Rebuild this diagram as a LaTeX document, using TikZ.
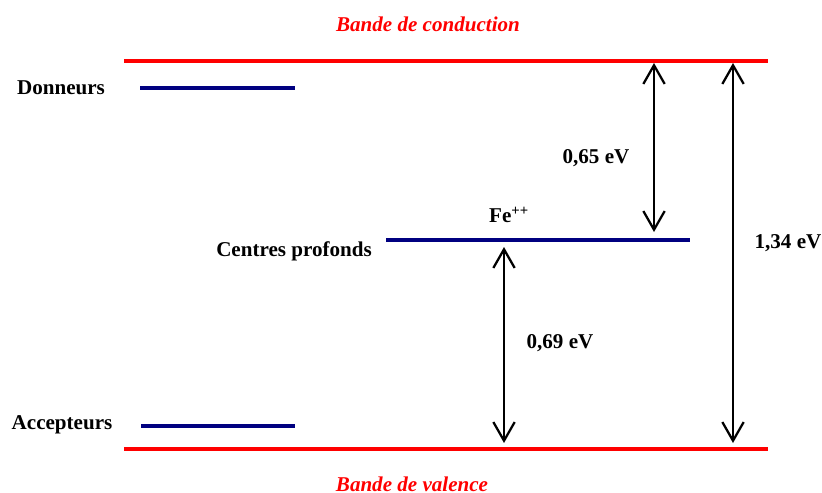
\documentclass[tikz,border=0pt]{standalone}
\usepackage{fontspec}
\setmainfont{Liberation Serif}
\usetikzlibrary{arrows.meta}
\begin{document}
\begin{tikzpicture}[x=0.75pt,y=-0.75pt,
  band/.style={draw=red, line width=2.6pt},
  level/.style={draw={rgb,255:red,0;green,0;blue,128}, line width=2.6pt},
  lab/.style={font=\fontsize{15.8}{19}\selectfont\bfseries, inner sep=0pt},
  bandlab/.style={lab, text=red, font=\fontsize{15.8}{19}\selectfont\bfseries\itshape},
  gap/.style={draw, line width=1.7pt, {Straight Barb[length=14pt,width=16pt,line width=1.7pt]}-{Straight Barb[length=14pt,width=16pt,line width=1.7pt]}}]
\useasboundingbox (0,0) rectangle (822,493);
% bands
\coordinate (cbL) at (124,61); \coordinate (cbR) at (768,61);
\coordinate (vbL) at (124,449); \coordinate (vbR) at (768,449);
\draw[band] (cbL) -- (cbR);
\draw[band] (vbL) -- (vbR);
\node[bandlab] (bc) at (428,24) {Bande de conduction};
\node[bandlab] (bv) at (412,484) {Bande de valence};
% levels
\coordinate (dL) at (140,88); \coordinate (dR) at (295,88);
\coordinate (aL) at (141,426); \coordinate (aR) at (295,426);
\coordinate (fL) at (386,240); \coordinate (fR) at (690,240);
\draw[level] (dL) -- (dR);
\draw[level] (aL) -- (aR);
\draw[level] (fL) -- (fR);
\node[lab] (don) at (61,88) {Donneurs};
\node[lab] (acc) at (62,425) {Accepteurs};
\node[lab] (cp) at (294,251) {Centres profonds};
\node[lab] (fe) at (509,215) {Fe\textsuperscript{++}};
% arrows
\coordinate (a1t) at (654,63); \coordinate (a1b) at (654,232);
\coordinate (a2t) at (504,247); \coordinate (a2b) at (504,443);
\coordinate (a3t) at (733,63); \coordinate (a3b) at (733,443);
\draw[gap] (a1t) -- (a1b);
\draw[gap] (a2t) -- (a2b);
\draw[gap] (a3t) -- (a3b);
\node[lab] (e1) at (596,158) {0,65 eV};
\node[lab] (e2) at (560,343) {0,69 eV};
\node[lab] (e3) at (788,243) {1,34 eV};
\end{tikzpicture}
\end{document}
